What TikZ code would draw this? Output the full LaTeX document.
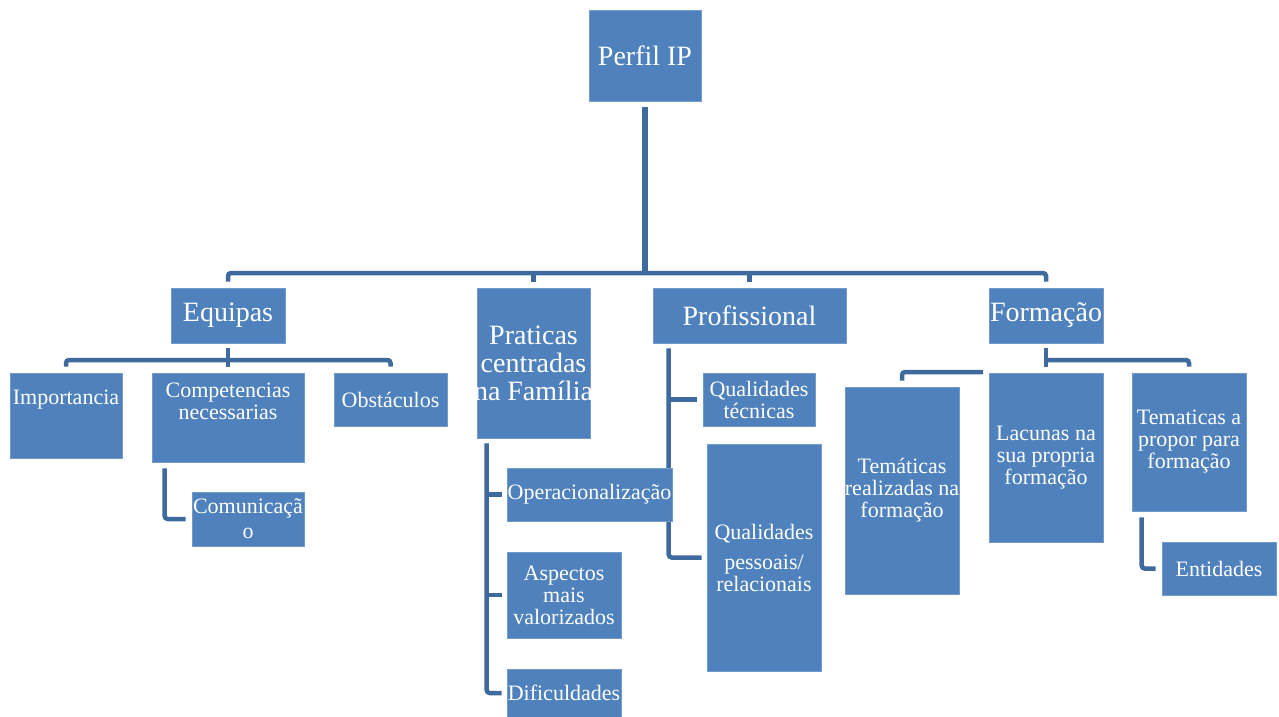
\documentclass[tikz,border=0pt]{standalone}
\usepackage{fontspec}
\setmainfont{Liberation Serif}
\usetikzlibrary{positioning, backgrounds}
\definecolor{boxblue}{HTML}{4F81BD}
\definecolor{linkblue}{HTML}{3F6A9E}
\newcommand{\ov}[1]{\makebox[0pt]{#1}}

\begin{document}
\begin{tikzpicture}[x=1pt, y=-1pt,
    card/.style={fill=boxblue, draw=boxblue!80!white, line width=0.6pt, text=white,
      inner sep=0pt, align=flush center, font=\fontsize{22}{22}\selectfont},
    bigcard/.style={card, font=\fontsize{28}{28}\selectfont},
    cardtext/.style={text=white, inner sep=0pt, align=flush center, font=\fontsize{22}{22}\selectfont},
    link/.style={draw=linkblue, line width=4.5pt, rounded corners=3pt}]
  \useasboundingbox (0,0) rectangle (1279,717);

  % top and first level
  \node[bigcard, text width=112pt, minimum height=91pt] (perfil) at (645,55.5) {Perfil IP};
  \node[bigcard, text width=114pt, minimum height=55pt] (equipas) at (228,315.5) {Equipas};
  \node[bigcard, text width=113pt, minimum height=150pt] (praticas) at (533.5,363) {Praticas\\centradas\\\ov{na Família}};
  \node[bigcard, text width=193pt, minimum height=55pt] (prof) at (749.5,315.5) {Profissional};
  \node[bigcard, text width=114pt, minimum height=55pt] (formacao) at (1046,315.5) {\ov{Formação}};

  % Equipas
  \node[card, text width=112pt, minimum height=85pt,
    label={[cardtext, yshift=16pt]center:Importancia}] (imp) at (66,415.5) {};
  \node[card, text width=152pt, minimum height=89pt,
    label={[cardtext, yshift=16pt]center:Competencias\\necessarias}] (comp) at (228,417.5) {};
  \node[card, text width=113pt, minimum height=53pt] (obs) at (390.5,399.5) {Obstáculos};
  \node[card, text width=112pt, minimum height=54pt] (comun) at (248,519) {\ov{Comunicaçã}\\[3pt]o};

  % Praticas
  \node[card, text width=165pt, minimum height=53pt] (oper) at (589.5,494.5) {\ov{Operacionalização}};
  \node[card, text width=114pt, minimum height=86pt] (asp) at (564,595) {Aspectos\\mais\\valorizados};
  \node[card, text width=114pt, minimum height=48pt] (dif) at (564,693) {\ov{Dificuldades}};

  % Profissional
  \node[card, text width=112pt, minimum height=53pt] (qt) at (759,399.5) {Qualidades\\técnicas};
  \node[card, text width=114pt, minimum height=227pt] (qp) at (764,557.5) {Qualidades\\[8pt]pessoais/\\relacionais};

  % Formacao
  \node[card, text width=114pt, minimum height=207pt] (trea) at (902,490.5) {Temáticas\\\ov{realizadas na}\\formação};
  \node[card, text width=114pt, minimum height=169pt] (lac) at (1046,457.5) {Lacunas na\\sua propria\\formação};
  \node[card, text width=114pt, minimum height=138pt] (tp) at (1189,442) {Tematicas a\\propor para\\formação};
  \node[card, text width=114pt, minimum height=53pt] (ent) at (1219,568.5) {Entidades};

  \begin{scope}[on background layer]
    \coordinate (bus) at (645,273);
    \draw[link, line width=5.5pt, shorten <=6pt] (perfil.south) -- (perfil.south |- bus);
    \draw[link, shorten <=6pt, shorten >=6pt] (equipas.north) |- (formacao.north |- bus) -- (formacao.north);
    \draw[link, shorten <=6pt] (praticas.north) -- (praticas.north |- bus);
    \draw[link, shorten <=6pt] (prof.north) -- (prof.north |- bus);

    \coordinate (eqbus) at (228,360);
    \draw[link, shorten <=5pt] (equipas.south) -- (eqbus);
    \draw[link, shorten <=6pt, shorten >=6pt] (imp.north) |- (obs.north |- eqbus) -- (obs.north);
    \draw[link, shorten >=6pt] (eqbus) -- (comp.north);
    \draw[link, shorten <=6pt, shorten >=6pt] ([xshift=13pt]comp.south west) |- (comun.west);

    \coordinate (pratrunk) at ([xshift=10pt]praticas.south west);
    \draw[link, shorten <=5pt, shorten >=5pt] (pratrunk) |- (dif.west);
    \draw[link, shorten >=5pt] (pratrunk |- oper.west) -- (oper.west);
    \draw[link, shorten >=5pt] (pratrunk |- asp.west) -- (asp.west);

    \coordinate (proftrunk) at ([xshift=16pt]prof.south west);
    \draw[link, shorten <=5pt, shorten >=5pt] (proftrunk) |- (qp.west);
    \draw[link, shorten >=6pt] (proftrunk |- qt.west) -- (qt.west);

    \coordinate (fbus) at (1046,360);
    \draw[link, shorten <=5pt, shorten >=6pt] (formacao.south) -- (lac.north);
    \draw[link, shorten >=6pt] (fbus) -| (tp.north);
    \coordinate (fleft) at (983,372);
    \draw[link, shorten >=6pt] (fleft) -| (trea.north);
    \draw[link, shorten <=6pt, shorten >=6pt] ([xshift=10pt]tp.south west) |- (ent.west);
  \end{scope}
\end{tikzpicture}
\end{document}
